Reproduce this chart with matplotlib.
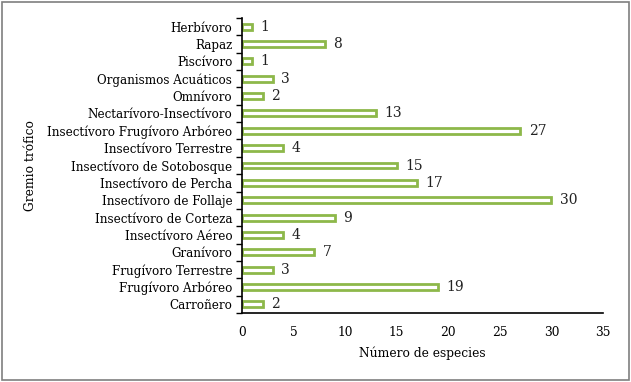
import matplotlib
matplotlib.use("Agg")
import matplotlib.pyplot as plt
from matplotlib.patches import Rectangle

categories = ["Carroñero", "Frugívoro Arbóreo", "Frugívoro Terrestre", "Granívoro",
              "Insectívoro Aéreo", "Insectívoro de Corteza", "Insectívoro de Follaje",
              "Insectívoro de Percha", "Insectívoro de Sotobosque", "Insectívoro Terrestre",
              "Insectívoro Frugívoro Arbóreo", "Nectarívoro-Insectívoro", "Omnívoro",
              "Organismos Acuáticos", "Piscívoro", "Rapaz", "Herbívoro"]
values = [2, 19, 3, 7, 4, 9, 30, 17, 15, 4, 27, 13, 2, 3, 1, 8, 1]
xticks = [0, 5, 10, 15, 20, 25, 30, 35]

plt.rcParams['font.family'] = ['DejaVu Serif']
fig = plt.figure(figsize=(6.31, 3.82), dpi=100)
ax = fig.add_axes([242/631, 1 - 313/382, (603-242)/631, (313-18)/382])

green = "#8DB84A"
y = list(range(len(categories)))
ax.barh(y, values, height=0.34, color="white", edgecolor=green, linewidth=2.0)
for yi, v in zip(y, values):
    ax.text(v + 0.8, yi, str(v), va="center", ha="left", fontsize=10, color="#222222")

ax.set_xlim(0, 35)
ax.set_ylim(-0.5, len(categories) - 0.5)
ax.set_xticks(xticks)
ax.set_xticklabels([str(t) for t in xticks], fontsize=8.8)
ax.set_yticks(y)
ax.set_yticklabels(categories, fontsize=8.6)
ax.set_yticks([i - 0.5 for i in range(len(categories) + 1)], minor=True)
ax.tick_params(axis="y", which="major", length=0, pad=7)
ax.tick_params(axis="y", which="minor", length=4, width=1, color="black")
ax.tick_params(axis="x", length=0, pad=9)
for s in ["top", "right"]:
    ax.spines[s].set_visible(False)
ax.spines["left"].set_linewidth(1.2)
ax.spines["bottom"].set_linewidth(1.2)
ax.set_xlabel("Número de especies", fontsize=8.8, labelpad=6)
ax.set_ylabel("Gremio trófico", fontsize=8.8, labelpad=7)

fig.patches.append(Rectangle((0.003, 0.004), 0.994, 0.99, transform=fig.transFigure,
                             fill=False, edgecolor="#7f7f7f", linewidth=1.2))
fig.savefig("out.png", dpi=100)
